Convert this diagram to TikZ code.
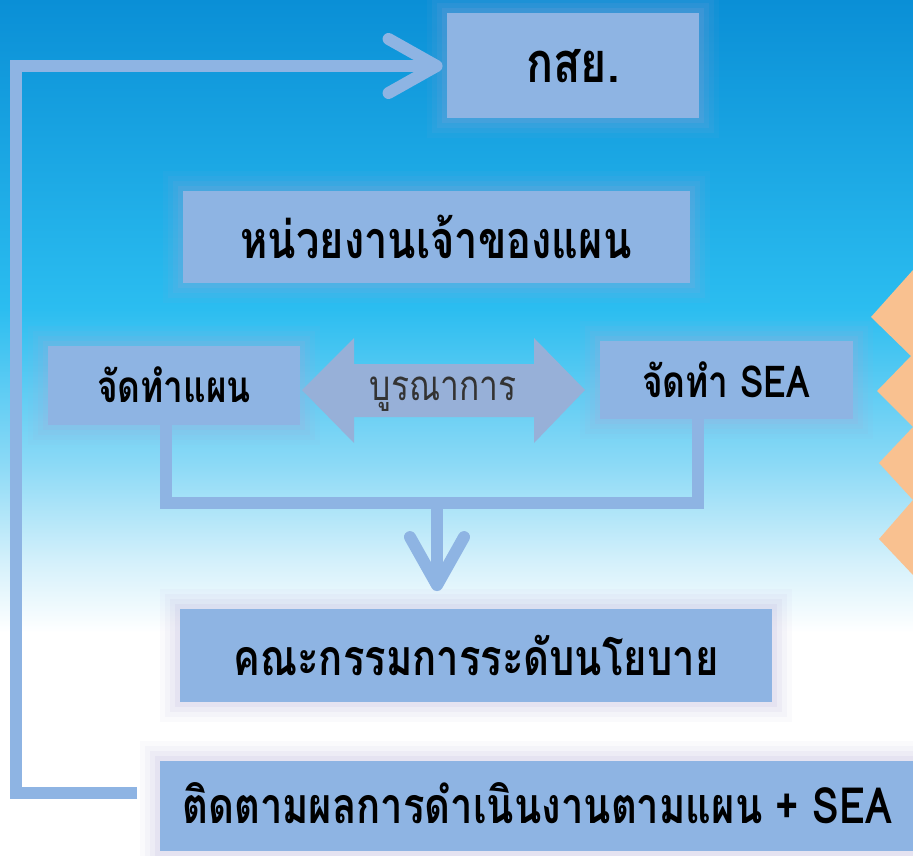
\documentclass[tikz,border=0pt]{standalone}
\usepackage{fontspec}
\usepackage{tikz}
\usetikzlibrary{arrows.meta,calc}
\newfontfamily\thaifont[Script=Thai,FakeStretch=0.8]{Loma}
\newcommand\thaisize[1]{\fontsize{#1}{#1}\selectfont}
\definecolor{boxblue}{HTML}{8EB4E3}
\definecolor{arrowgray}{HTML}{97B0D8}
\definecolor{halo}{HTML}{B0A6D6}
\definecolor{peach}{HTML}{F9C190}
\definecolor{darktext}{HTML}{333333}
\definecolor{skytop}{HTML}{0A8FD6}
\definecolor{skymid}{HTML}{2BBDF0}
\definecolor{skylow}{HTML}{8AD9F6}
\definecolor{skypale}{HTML}{D6F1FB}
\pgfdeclareverticalshading{sky}{100bp}{color(0bp)=(white); color(38bp)=(white);
  color(42bp)=(skypale); color(48bp)=(skylow); color(57bp)=(skymid);
  color(75bp)=(skytop); color(100bp)=(skytop)}

\begin{document}
\begin{tikzpicture}[x=0.5pt,y=-0.5pt,
		planbox/.style = {fill=boxblue,text=black,inner sep=0pt,font=\thaifont\bfseries\thaisize{#1},
			preaction={draw=halo,line width=20pt,opacity=0.05,rounded corners=10pt},
			preaction={draw=halo,line width=15pt,opacity=0.07,rounded corners=8pt},
			preaction={draw=halo,line width=10pt,opacity=0.09,rounded corners=5pt},
			preaction={draw=halo,line width=5pt,opacity=0.12,rounded corners=3pt}},
		link/.style = {draw=boxblue,line width=6pt},
		tip/.style = {-{Straight Barb[length=24pt,width=27pt,round]}}]
		\useasboundingbox (0,0) rectangle (913,855);
		\clip (0,0) rectangle (913,855);
		\shade[shading=sky] (0,0) rectangle (913,855);
		% chevrons on the right edge
		\fill[peach] (913,270) -- (871,317) -- (911,356) -- (877,391) -- (913,427)
			-- (879,463) -- (913,500) -- (879,539) -- (913,575) -- cycle;

		\node [planbox=28, minimum width=126pt, minimum height=52.5pt] (ksy) at (573,66) {กสย.};
		\node [planbox=26, minimum width=253.5pt, minimum height=46pt] (owner) at (436,237) {หน่วยงานเจ้าของแผน};
		\node [planbox=22, minimum width=126pt, minimum height=39.5pt] (plan) at (174,385) {จัดทำแผน};
		\node [planbox=22, minimum width=126.5pt, minimum height=39pt] (sea) at (726,380) {จัดทำ SEA};
		\node [planbox=25, minimum width=296pt, minimum height=46.5pt] (policy) at (476,655) {คณะกรรมการระดับนโยบาย};
		\node [planbox=25, minimum width=381pt, minimum height=45pt] (follow) at (541,806) {\hspace*{-4pt}\raisebox{3pt}{ติดตามผลการดำเนินงานตามแผน + SEA}};

		% two-way arrow between the two tasks
		\fill[arrowgray] (302,390) -- (354,338) -- (354,364) -- (534,364) -- (534,338) -- (585,390)
			-- (534,443) -- (534,417) -- (354,417) -- (354,443) -- cycle;
		\node [font=\thaifont\thaisize{21}, text=darktext] (integ) at (443,394) {บูรณาการ};

		\coordinate (jl) at (166,503);
		\coordinate (jr) at (698,503);
		\coordinate (jm) at (437,503);
		\draw[link] (jl |- plan.south) -- (jl) -- (jr) -- (jr |- sea.south);
		\draw[link,tip,shorten >=8.5pt] (jm) -- (jm |- policy.north);

		% loop back to the top
		\coordinate (fb) at (137,793);
		\coordinate (lx) at (16,430);
		\draw[link,tip,shorten >=2pt] (fb) -| (lx) |- (ksy.west);
\end{tikzpicture}
\end{document}
